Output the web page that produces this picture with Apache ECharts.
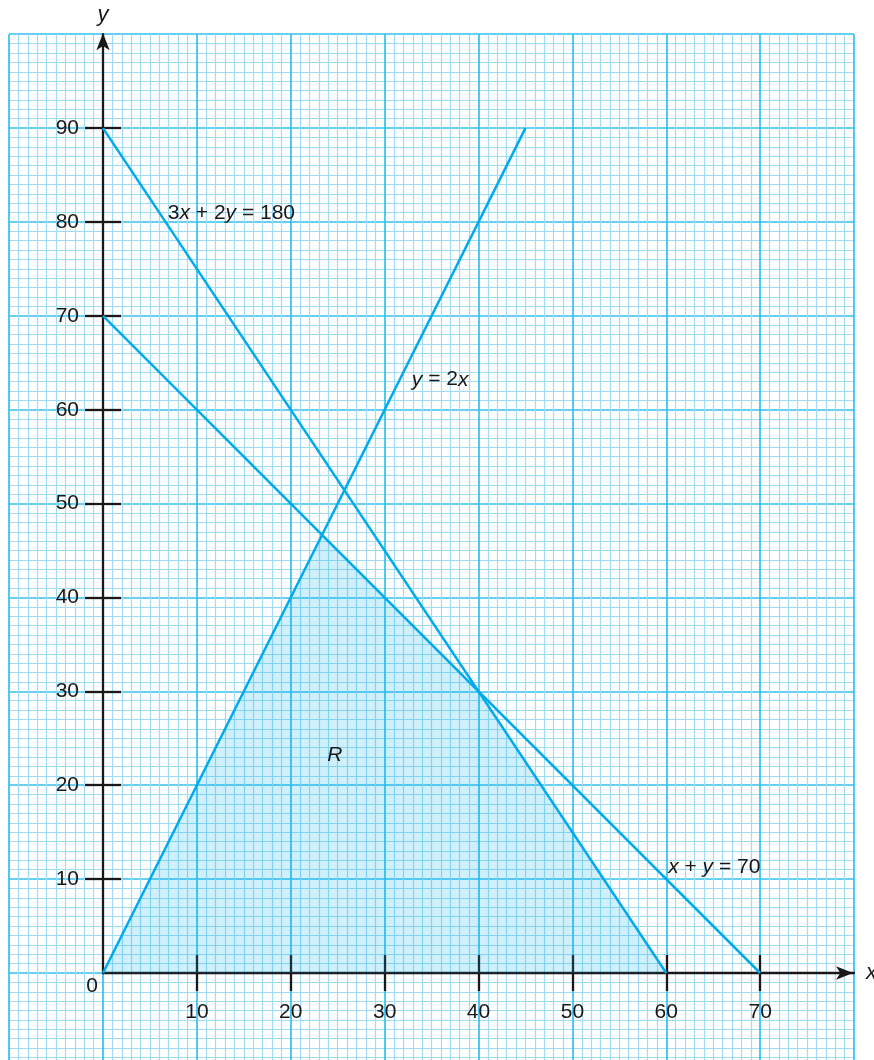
<!DOCTYPE html>
<html><head><meta charset="utf-8">
<script src="https://cdn.jsdelivr.net/npm/echarts@6/dist/echarts.min.js"></script>
<style>html,body{margin:0;padding:0;background:#fff}#c{width:874px;height:1060px}</style>
</head><body><div id="c"></div>
<script>
// ---- data ----
const xTickValues = [10, 20, 30, 40, 50, 60, 70];
const yTickValues = [10, 20, 30, 40, 50, 60, 70, 80, 90];
const lineY2x = [[0, 0], [45, 90]];          // y = 2x
const line3x2y = [[0, 90], [60, 0]];         // 3x + 2y = 180
const lineXY70 = [[0, 70], [70, 0]];         // x + y = 70
const regionR = [[0, 0], [23.33, 46.67], [40, 30], [60, 0]];
const labelTexts = ['3x + 2y = 180', 'y = 2x', 'x + y = 70', 'R'];
const labelX = [6.9, 32.9, 60.2, 24.7];
const labelY = [80.9, 63.2, 11.3, 23.2];

// ---- layout / style ----
const OX = 103, OY = 973, S = 9.388;
const INK = '#1a1718', LINE = '#00aaec';
const FONT = '"Liberation Sans", Arial, sans-serif';

function richText(t) {
  return t.split('').map(ch => /[a-zA-Z]/.test(ch) ? '{i|' + ch + '}' : '{n|' + ch + '}').join('');
}
const rich = {
  n: { fontSize: 21, fontFamily: FONT, color: INK, opacity: 1 },
  i: { fontSize: 21, fontFamily: FONT, color: INK, fontStyle: 'italic', opacity: 1 }
};

const chart = echarts.init(document.getElementById('c'), null, { renderer: 'canvas' });

const paperAxisCommon = {
  type: 'value', interval: 10,
  axisLine: { show: false }, axisTick: { show: false }, axisLabel: { show: false },
  splitLine: { show: true, lineStyle: { color: '#30c1f0', width: 1.7 } },
  minorTick: { show: false, splitNumber: 10 },
  minorSplitLine: { show: true, lineStyle: { color: '#a0dcf5', width: 1.2 } }
};

const option = {
  backgroundColor: '#ffffff',
  animation: false,
  grid: [
    { left: OX - 10 * S, top: OY - 100 * S, width: 90 * S, height: 110 * S, outerBoundsMode: 'none', containLabel: false },
    { left: OX, top: OY - 100 * S, width: 80 * S, height: 100 * S, outerBoundsMode: 'none', containLabel: false }
  ],
  xAxis: [
    Object.assign({ gridIndex: 0, min: -10, max: 80 }, paperAxisCommon),
    {
      gridIndex: 1, type: 'value', min: 0, max: 80, interval: 10, position: 'bottom',
      name: 'x', nameLocation: 'end', nameGap: 12,
      nameTextStyle: { fontStyle: 'italic', fontSize: 22, color: INK, fontFamily: FONT, verticalAlign: 'middle' },
      axisLine: { show: true, onZero: false, symbol: ['none', 'arrow'], symbolSize: [10, 17], symbolOffset: [0, -1],
        lineStyle: { color: INK, width: 2.3 } },
      axisTick: { show: true, inside: false, length: 18, customValues: xTickValues, lineStyle: { color: INK, width: 2.3 } },
      axisLabel: { show: true, customValues: xTickValues, margin: 29, fontSize: 21, color: INK, fontFamily: FONT },
      splitLine: { show: false }
    },
    {
      gridIndex: 1, type: 'value', min: 0, max: 80, interval: 10, position: 'bottom',
      axisLine: { show: false, onZero: false },
      axisTick: { show: true, inside: true, length: 18, customValues: xTickValues, lineStyle: { color: INK, width: 2.3 } },
      axisLabel: { show: false }, splitLine: { show: false }
    }
  ],
  yAxis: [
    Object.assign({ gridIndex: 0, min: -10, max: 100 }, paperAxisCommon),
    {
      gridIndex: 1, type: 'value', min: 0, max: 100, interval: 10, position: 'left',
      name: 'y', nameLocation: 'end', nameGap: 8,
      nameTextStyle: { fontStyle: 'italic', fontSize: 22, color: INK, fontFamily: FONT },
      axisLine: { show: true, onZero: false, symbol: ['none', 'arrow'], symbolSize: [10, 17], symbolOffset: [0, 1],
        lineStyle: { color: INK, width: 2.3 } },
      axisTick: { show: true, inside: false, length: 18, customValues: yTickValues, lineStyle: { color: INK, width: 2.3 } },
      axisLabel: { show: true, customValues: yTickValues, margin: 24, fontSize: 21, color: INK, fontFamily: FONT },
      splitLine: { show: false }
    },
    {
      gridIndex: 1, type: 'value', min: 0, max: 100, interval: 10, position: 'left',
      axisLine: { show: false, onZero: false },
      axisTick: { show: true, inside: true, length: 18, customValues: yTickValues, lineStyle: { color: INK, width: 2.3 } },
      axisLabel: { show: false }, splitLine: { show: false }
    }
  ],
  series: [
    {
      name: 'R', type: 'line', xAxisIndex: 1, yAxisIndex: 1, data: regionR,
      symbol: 'none', lineStyle: { width: 0, opacity: 0 },
      areaStyle: { color: 'rgba(0,170,235,0.27)', origin: 'start' }, silent: true, z: 1
    },
    {
      name: 'y = 2x', type: 'line', xAxisIndex: 1, yAxisIndex: 1, data: lineY2x,
      symbol: 'none', lineStyle: { color: LINE, width: 2.5 }, silent: true, z: 3
    },
    {
      name: '3x + 2y = 180', type: 'line', xAxisIndex: 1, yAxisIndex: 1, data: line3x2y,
      symbol: 'none', lineStyle: { color: LINE, width: 2.5 }, silent: true, z: 3
    },
    {
      name: 'x + y = 70', type: 'line', xAxisIndex: 1, yAxisIndex: 1, data: lineXY70,
      symbol: 'none', lineStyle: { color: LINE, width: 2.5 }, silent: true, z: 3
    },
    {
      name: 'labels', type: 'scatter', xAxisIndex: 1, yAxisIndex: 1, symbolSize: 0, silent: true, z: 5,
      itemStyle: { opacity: 1 },
      data: labelTexts.map((t, k) => ({
        value: [labelX[k], labelY[k]],
        label: {
          show: true, position: t === 'R' ? 'inside' : 'right', distance: 0, opacity: 1,
          formatter: richText(t), rich: rich
        }
      }))
    },
    {
      name: 'origin', type: 'scatter', xAxisIndex: 1, yAxisIndex: 1, symbolSize: 0, silent: true, z: 5,
      itemStyle: { opacity: 1 },
      data: [[0, 0]],
      label: { show: true, position: 'inside', offset: [-11, 13], formatter: '0', fontSize: 21, color: INK, fontFamily: FONT, opacity: 1 }
    }
  ]
};
chart.setOption(option);
</script>
</body></html>
